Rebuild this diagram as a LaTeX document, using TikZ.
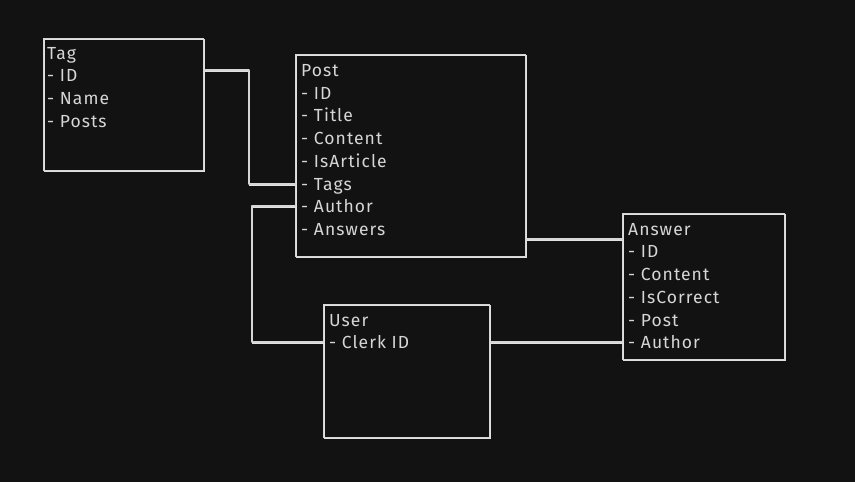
\documentclass[tikz,border=0pt]{standalone}
\usepackage{fontspec}
\setmainfont{Fira Sans}[LetterSpace=6]
\definecolor{bg}{HTML}{121212}
\definecolor{ink}{HTML}{D6D6D6}
\begin{document}
\begin{tikzpicture}[x=1pt,y=-1pt,
  box/.style={draw=ink, line width=1.1pt, anchor=north west, inner sep=0pt,
    preaction={draw=ink!75, line width=0.7pt, transform canvas={shift={(0.9pt,-0.8pt)}}}},
  row/.style={anchor=west, text=ink, font=\fontsize{17.5}{21}\selectfont, inner sep=0pt, text height=12pt, text depth=0pt},
  link/.style={draw=ink, line width=1.1pt, line join=round,
    preaction={draw=ink!70, line width=0.6pt, transform canvas={shift={(0.6pt,-0.8pt)}}}}]
\fill[bg] (0,0) rectangle (855,482);
\useasboundingbox (0,0) rectangle (855,482);

% boxes
\node[box, minimum width=160pt, minimum height=132pt] (tag) at (43,38) {};
\node[box, minimum width=230pt, minimum height=202pt] (post) at (295,54) {};
\node[box, minimum width=162pt, minimum height=146pt] (answer) at (622,213) {};
\node[box, minimum width=166pt, minimum height=133pt] (user) at (323,304) {};

% Tag rows
\node[row] (t-h) at (47,53) {Tag};
\node[row] (t-id) at (47,75) {- ID};
\node[row] (t-name) at (47,98) {- Name};
\node[row] (t-posts) at (47,121) {- Posts};

% Post rows
\node[row] (p-h) at (301,70) {Post};
\node[row] (p-id) at (301,93) {- ID};
\node[row] (p-title) at (301,115) {- Title};
\node[row] (p-content) at (301,138) {- Content};
\node[row] (p-isarticle) at (301,161) {- IsArticle};
\node[row] (p-tags) at (301,184) {- Tags};
\node[row] (p-author) at (301,206) {- Author};
\node[row] (p-answers) at (301,229) {- Answers};

% Answer rows
\node[row] (a-h) at (628,229) {Answer};
\node[row] (a-id) at (628,251) {- ID};
\node[row] (a-content) at (628,274) {- Content};
\node[row] (a-iscorrect) at (628,297) {- IsCorrect};
\node[row] (a-post) at (628,320) {- Post};
\node[row] (a-author) at (628,342) {- Author};

% User rows
\node[row] (u-h) at (329,320) {User};
\node[row] (u-clerk) at (329,342) {- Clerk ID};

% connectors
\coordinate (k1) at (249,70);
\coordinate (k2) at (252,206);
\coordinate (k3) at (570,239);

\path[link] (tag.east |- k1) -- (k1) -- (k1 |- p-tags.west) -- (post.west |- p-tags.west);
\path[link] (post.west |- p-author.west) -- (k2) -- (k2 |- u-clerk.west) -- (user.west |- u-clerk.west);
\path[link] (post.east |- k3) -- (answer.west |- k3);
\path[link] (user.east |- a-author.west) -- (answer.west |- a-author.west);
\end{tikzpicture}
\end{document}
